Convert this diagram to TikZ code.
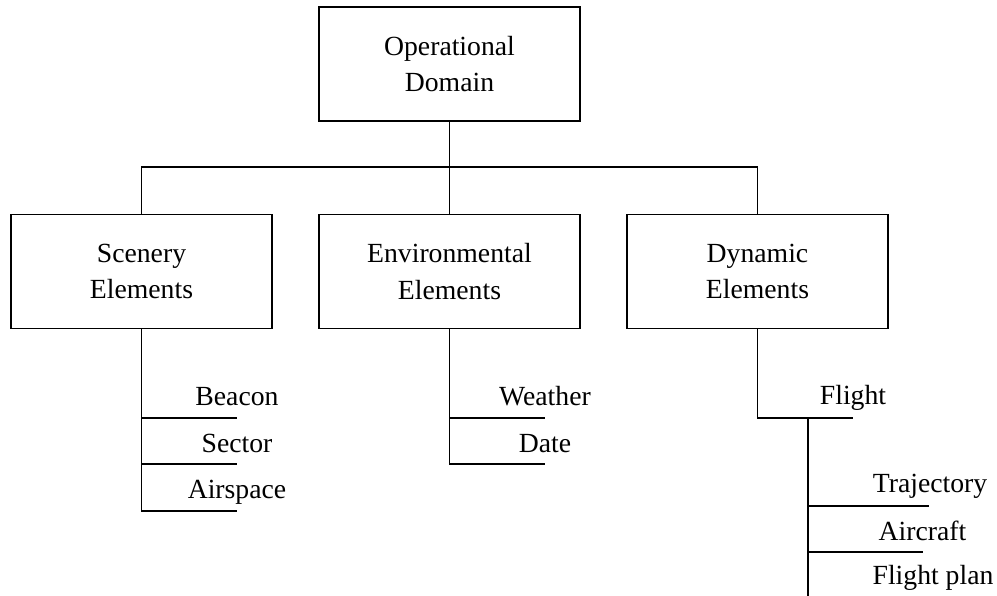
\documentclass[tikz,border=0pt]{standalone}
\usepackage{fontspec}
\setmainfont{Liberation Serif}
\usetikzlibrary{calc}
\begin{document}
\begin{tikzpicture}[x=1pt,y=-1pt,
  box/.style={draw, line width=1.3pt, minimum width=261pt, minimum height=114pt,
              inner sep=0pt, align=center, font=\fontsize{27.7}{36.7}\selectfont},
  leaf/.style={anchor=base, inner sep=0pt, font=\fontsize{27.7}{36.7}\selectfont},
  link/.style={line width=1.3pt}]
\useasboundingbox (0,0) rectangle (997,596);

% main boxes
\node[box] (od) at (449.5,64)    {Operational\\Domain};
\node[box] (se) at (141.5,271.5) {Scenery\\Elements};
\node[box] (ee) at (449.5,271.5) {Environmental\\Elements};
\node[box] (de) at (757.5,271.5) {Dynamic\\Elements};

% tree bus between the root and the three categories
\coordinate (bus) at (0,167);
\draw[link] (od.south) -- (od.south |- bus);
\draw[link] (se.north) -- (se.north |- bus) -- (de.north |- bus) -- (de.north);
\draw[link] (ee.north) -- (ee.north |- bus);

% scenery elements
\coordinate (s1) at (237,418);
\coordinate (s2) at (237,464);
\coordinate (s3) at (237,511);
\draw[link] (se.south) -- (se.south |- s3) -- (s3);
\draw[link] (se.south |- s1) -- (s1);
\draw[link] (se.south |- s2) -- (s2);
\node[leaf] (beacon)   at ($(s1)+(0,-12)$) {Beacon};
\node[leaf] (sector)   at ($(s2)+(0,-12)$) {Sector};
\node[leaf] (airspace) at ($(s3)+(0,-13)$) {Airspace};

% environmental elements
\coordinate (e1) at (545,418);
\coordinate (e2) at (545,464);
\draw[link] (ee.south) -- (ee.south |- e2) -- (e2);
\draw[link] (ee.south |- e1) -- (e1);
\node[leaf] (weather) at ($(e1)+(0,-13)$) {Weather};
\node[leaf] (date)    at ($(e2)+(0,-12)$) {Date};

% dynamic elements
\coordinate (f1) at (853,418);
\draw[link] (de.south) -- (de.south |- f1) -- (f1);
\node[leaf] (flight) at ($(f1)+(0,-14)$) {Flight};

\coordinate (fj) at (808,418);
\coordinate (fb) at (808,596);
\coordinate (t1) at (929,506);
\coordinate (t2) at (923,552);
\draw[link] (fj) -- (fb);
\draw[link] (fj |- t1) -- (t1);
\draw[link] (fj |- t2) -- (t2);
\node[leaf] (trajectory) at (930,492)   {Trajectory};
\node[leaf] (aircraft)   at (922.5,540) {Aircraft};
\node[leaf] (flightplan) at (933,584)   {Flight plan};
\end{tikzpicture}
\end{document}
